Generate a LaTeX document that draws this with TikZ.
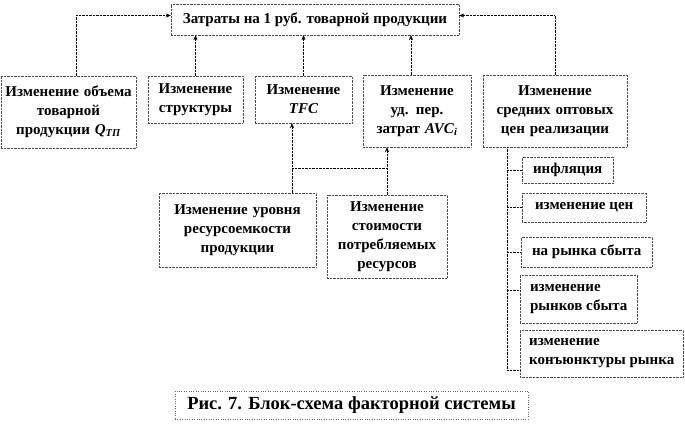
\documentclass[tikz,border=0pt]{standalone}
\usepackage{fontspec}
\setmainfont{Liberation Serif}
\usetikzlibrary{arrows.meta}
\tikzstyle{block} = [rectangle, draw=black!70, densely dotted, inner sep=2pt, text centered, font=\fontsize{15}{19}\selectfont\bfseries]
\tikzstyle{sub} = [rectangle, draw=black!70, densely dotted, inner xsep=8pt, inner ysep=2pt, align=left, anchor=west, font=\fontsize{15}{19}\selectfont\bfseries]
\tikzstyle{line} = [densely dotted, black]
\tikzstyle{arrow} = [densely dotted, black, -{Stealth[length=5pt, width=4pt]}]

\begin{document}
\begin{tikzpicture}[x=1pt, y=-1pt]
\useasboundingbox (0,0) rectangle (685,438);
\node (title) [block, minimum width=288pt, minimum height=31pt] at (315,19.5) {Затраты на 1 руб. товарной продукции};
\node (obem) [block, text width=131pt, minimum height=72pt] at (68.5,112) {Изменение объема\\товарной\\продукции {\itshape Q}\textsubscript{\itshape ТП}};
\node (struct) [block, text width=91pt, minimum height=47pt] at (195.5,99.5) {Изменение\\структуры};
\node (tfc) [block, text width=93pt, minimum height=47pt] at (303.5,99.5) {Изменение\\\textit{TFC}};
\node (avc) [block, text width=104pt, minimum height=72pt] at (417,111) {Изменение\\уд. пер.\\затрат \textit{AVC}\textsubscript{\itshape i}};
\node (price) [block, text width=140pt, minimum height=72pt] at (555,111) {Изменение\\средних оптовых\\цен реализации};
\node (level) [block, text width=153pt, minimum height=74pt] at (237.5,230) {Изменение уровня\\ресурсоемкости\\продукции};
\node (cost) [block, text width=116pt, minimum height=83pt] at (387,236.5) {Изменение\\стоимости\\потребляемых\\ресурсов};

\node (infl) [sub, minimum width=91pt, minimum height=26pt] at (522,170) {инфляция};
\node (prices) [sub, minimum width=124pt, minimum height=29pt] at (522,207.5) {изменение цен};
\node (market) [sub, minimum width=131pt, minimum height=30pt] at (521,252) {на рынка сбыта};
\node (markets) [sub, minimum width=117pt, minimum height=48pt] at (520,299) {изменение\\рынков сбыта};
\node (conj) [sub, minimum width=163pt, minimum height=47pt] at (520,353.5) {изменение\\конъюнктуры рынка};

\node (caption) [rectangle, draw=black!60, dotted, minimum width=353pt, minimum height=28pt, font=\fontsize{18.5}{22}\selectfont\bfseries] at (351.5,405) {Рис. 7. Блок-схема факторной системы};

\coordinate (j1) at (292,168);
\coordinate (j2) at (387,168);
\coordinate (rt) at (507,370);

\draw [arrow] ([xshift=7.5pt]obem.north) |- ([yshift=4pt]title.west);
\draw [arrow] (struct.north) -- (struct |- title.south);
\draw [arrow] (tfc.north) -- (tfc |- title.south);
\draw [arrow] (avc.north -| 411,0) -- (title.south -| 411,0);
\draw [arrow] (price.north) |- ([yshift=4pt]title.east);

\draw [line] (level.north -| j1) -- (j1);
\draw [arrow] (j1) -- (tfc.south -| j1);
\draw [line] (j1) -- (j2);
\draw [arrow] (cost.north) -- (avc.south -| cost);

\draw [line] (price.south -| rt) -- (rt);
\foreach \b in {infl, prices, market}
  \draw [line] (rt |- \b.west) -- (\b.west);
\draw [line] (rt |- 0,290) -- (markets.west |- 0,290);
\draw [line] (rt) -- (conj.west |- rt);

\end{tikzpicture}
\end{document}
